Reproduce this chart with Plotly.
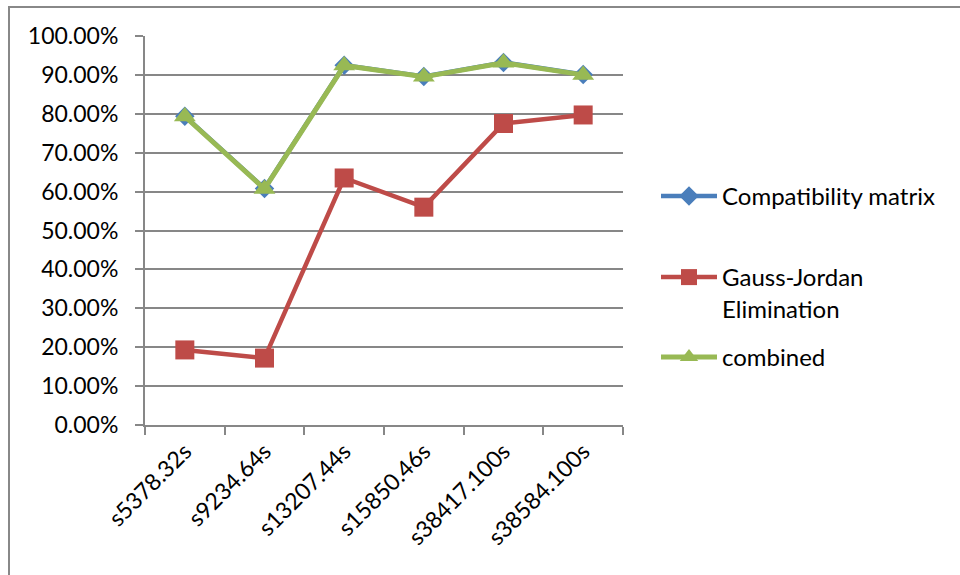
import plotly.graph_objects as go

categories = ["s5378.32s", "s9234.64s", "s13207.44s", "s15850.46s", "s38417.100s", "s38584.100s"]
compat = [0.794, 0.608, 0.925, 0.896, 0.932, 0.901]
gauss = [0.193, 0.172, 0.635, 0.560, 0.775, 0.797]
combined = [0.793, 0.607, 0.924, 0.895, 0.931, 0.900]

W, H = 960, 575
FONT = "Lato"
GRID = "#878787"

fig = go.Figure()
fig.add_trace(go.Scatter(x=categories, y=compat, name="Compatibility matrix", mode="lines+markers",
                         line=dict(color="#4A7EBB", width=4.5),
                         marker=dict(symbol="diamond", size=15, color="#4A7EBB"),
                         legend="legend", showlegend=True))
fig.add_trace(go.Scatter(x=categories, y=gauss, name="Gauss-Jordan<br>Elimination", mode="lines+markers",
                         line=dict(color="#BE4B48", width=4.5),
                         marker=dict(symbol="square", size=19, color="#BE4B48"),
                         legend="legend2", showlegend=True))
fig.add_trace(go.Scatter(x=categories, y=combined, name="combined", mode="lines+markers",
                         line=dict(color="#98B954", width=5),
                         marker=dict(symbol="triangle-up", size=19, color="#98B954"),
                         legend="legend3", showlegend=True))

x0, x1 = 145 / W, 623 / W
y0, y1 = 1 - 425 / H, 1 - 36 / H

leg_common = dict(xanchor="left", yanchor="top", bgcolor="rgba(0,0,0,0)", visible=True,
                  font=dict(family=FONT, size=24, color="#000000"), itemwidth=56,
                  valign="top")
fig.update_layout(
    width=W, height=H,
    showlegend=True,
    margin=dict(l=0, r=0, t=0, b=0),
    paper_bgcolor="white", plot_bgcolor="white",
    font=dict(family=FONT, size=23, color="#000000"),
    xaxis=dict(domain=[x0, x1], type="category", range=[-0.5, 5.5],
               showgrid=False, showline=True, linecolor=GRID, linewidth=2,
               ticks="outside", tickson="boundaries", ticklen=8, tickcolor=GRID, tickwidth=2,
               tickangle=-45, automargin=False, ticklabelstandoff=2,
               tickfont=dict(family=FONT, size=23, color="#000000")),
    yaxis=dict(domain=[y0, y1], range=[0, 1], dtick=0.1, tickformat=".2%",
               showgrid=True, gridcolor=GRID, gridwidth=2, zeroline=False,
               showline=True, linecolor=GRID, linewidth=2,
               ticks="outside", ticklen=8, tickcolor=GRID, tickwidth=2,
               automargin=False, ticklabelstandoff=12,
               tickfont=dict(family=FONT, size=23, color="#000000")),
    legend=dict(x=656 / W, y=1 - 174 / H, **leg_common),
    legend2=dict(x=656 / W, y=1 - 255 / H, **leg_common),
    legend3=dict(x=656 / W, y=1 - 335 / H, **leg_common),
    shapes=[
        dict(type="line", xref="paper", yref="paper", x0=8 / W, x1=1, y0=1 - 7 / H, y1=1 - 7 / H,
             line=dict(color="#888888", width=2)),
        dict(type="line", xref="paper", yref="paper", x0=9 / W, x1=9 / W, y0=0, y1=1 - 6 / H,
             line=dict(color="#888888", width=2)),
    ],
)

fig.write_html("out.html")
